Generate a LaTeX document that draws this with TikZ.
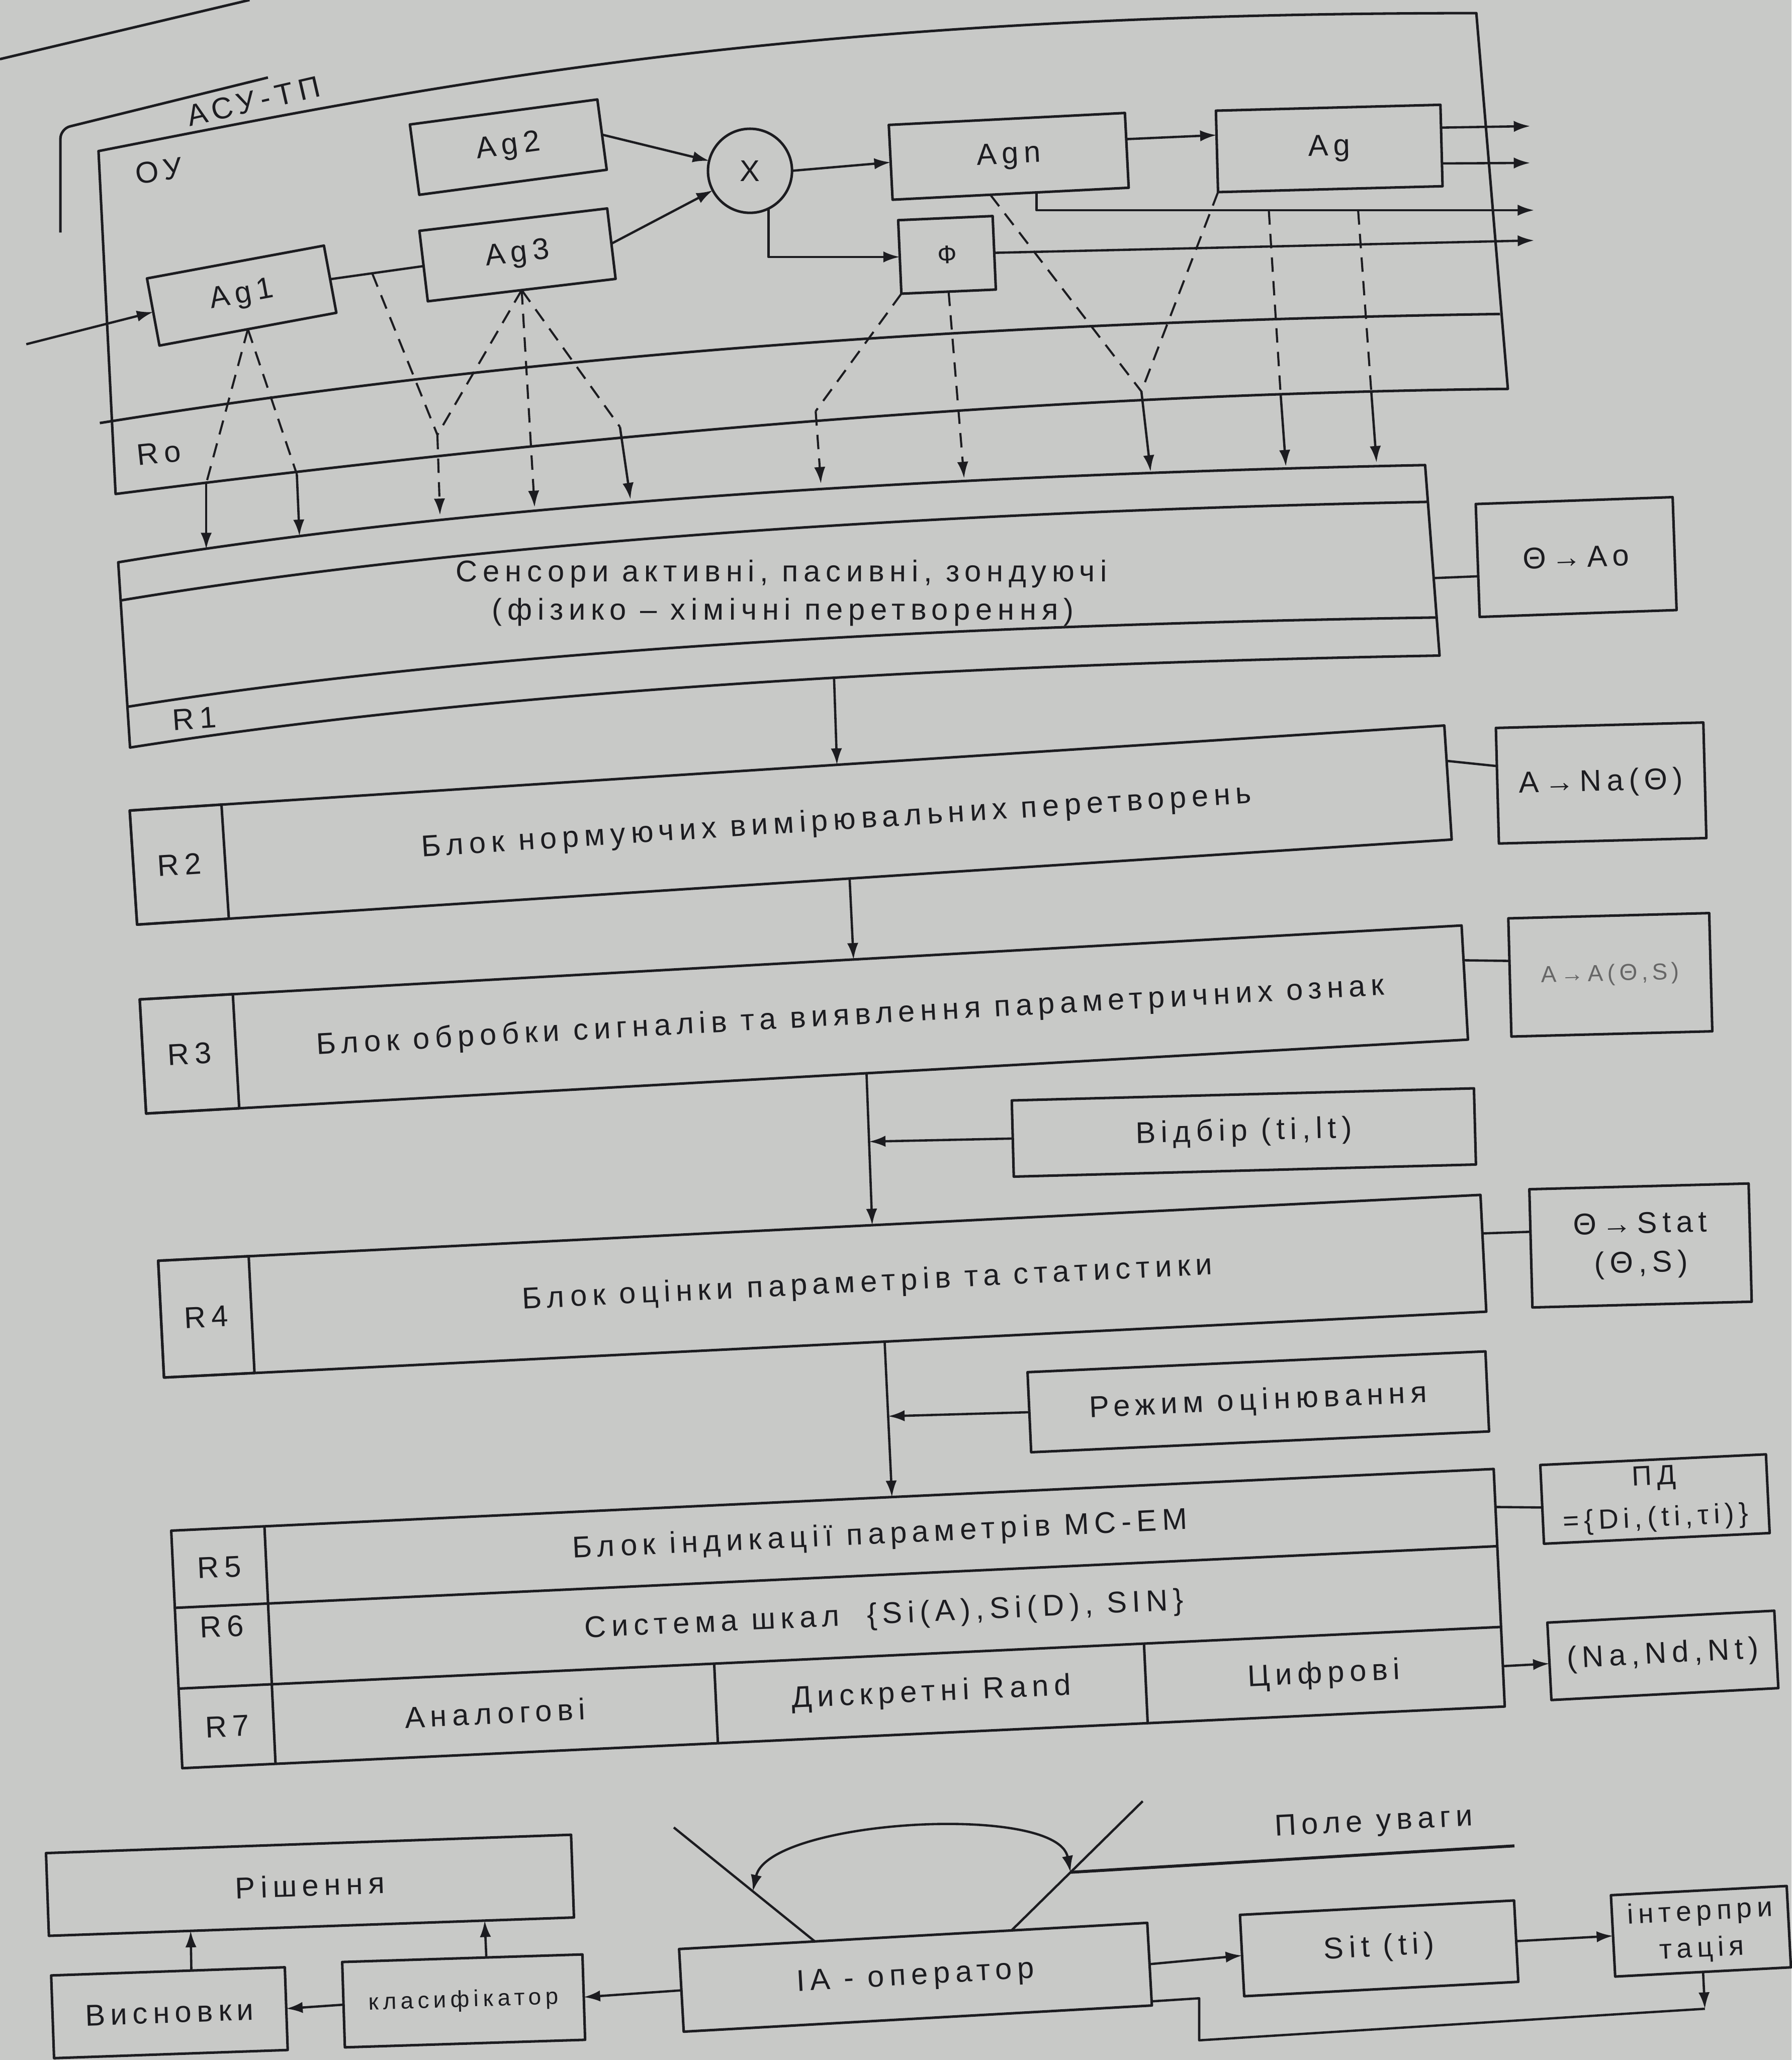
\documentclass[tikz,border=0pt]{standalone}
\usepackage{fontspec}
\setmainfont{Liberation Sans}
\newfontfamily\lsp[LetterSpace=18]{Liberation Sans}
\usetikzlibrary{arrows.meta,calc}
\definecolor{paper}{RGB}{200,201,199}
\definecolor{ink}{RGB}{28,28,32}
\newcommand{\fntA}{\lsp\fontsize{13}{15}\selectfont}
\newcommand{\fntS}{\lsp\fontsize{10}{12}\selectfont}
\tikzset{
 ln/.style={line width=1.1pt, draw=ink},
 box/.style={draw=ink, line width=1.1pt, inner sep=1pt, outer sep=0pt, align=center, text=ink, font=\fntA},
 sz/.style 2 args={minimum width=#1*0.2mm, minimum height=#2*0.2mm},
 txt/.style={inner sep=0pt, outer sep=0pt, align=center, text=ink, font=\fntA},
 ahead/.style={-{Latex[length=2.5mm,width=1.7mm]}},
 arr/.style={draw=ink, line width=1pt, ahead},
 con/.style={draw=ink, line width=1pt},
 dsh/.style={draw=ink, line width=0.9pt, dash pattern=on 2.2mm off 1.4mm},
 darr/.style={dsh, ahead},
}
\begin{document}
\begin{tikzpicture}[x=0.2mm, y=-0.2mm, line join=round]
\fill[paper] (0,0) rectangle (1364,1568);
\useasboundingbox (0,0) rectangle (1364,1568);

% ---------- top: ASU-TP, OU, Ro ----------
\draw[ln] (0,45) -- (190,0);
\draw[ln, rounded corners=1.5mm] (46,177) -- (46,98) -- (204,59);
\node[txt, rotate=13] (asu) at (193,77) {АСУ-ТП};

\draw[ln] (75,115) .. controls (330,65) and (600,10) .. (1124,10) -- (1148,296)
      .. controls (800,300) and (450,330) .. (88,376) -- cycle;
\draw[ln] (76,322) .. controls (400,270) and (750,245) .. (1142,239);
\node[txt, rotate=8] (ou) at (121,130) {ОУ};
\node[txt, rotate=6] (ro) at (121,345) {Ro};

\node[box, sz={137}{52}, rotate=10.5] (ag1) at (184,225) {Ag1};
\node[box, sz={144}{54}, rotate=7.6] (ag2) at (387,112) {Ag2};
\node[box, sz={144}{54}, rotate=6.8] (ag3) at (394,194) {Ag3};
\node[draw=ink, line width=1.1pt, circle, minimum size=64*0.2mm, inner sep=0pt, outer sep=0pt, text=ink, font=\fntA] (mul) at (571,130) {X};
\node[box, sz={180}{57}, rotate=2.9] (agn) at (768,119) {Agn};
\node[box, sz={171}{62}, rotate=1.5] (ag) at (1012,113) {Ag};
\node[box, sz={72}{56}, rotate=2.5, font=\lsp\fontsize{11}{13}\selectfont] (phi) at (721,194) {Ф};

\coordinate (in) at (20,262);
\draw[arr] (in) -- (ag1.west);
\draw[con] (ag1.east) -- (ag3.west);
\draw[arr] (ag2.east) -- (mul);
\draw[arr] (ag3.east) -- (mul);
\draw[arr] (mul.east) -- (agn.west);
\draw[arr] (mul.-64) |- (phi.west);
\draw[arr] ($(agn.north east)!0.35!(agn.south east)$) -- ($(ag.north west)!0.3!(ag.south west)$);

\coordinate (o1) at (1165,96);
\coordinate (o2) at (1165,124);
\coordinate (o3) at (1168,160);
\coordinate (o4) at (1168,183);
\draw[arr] ($(ag.north east)!0.28!(ag.south east)$) -- (o1);
\draw[arr] ($(ag.north east)!0.72!(ag.south east)$) -- (o2);
\draw[arr] ($(agn.south west)!0.61!(agn.south east)$) |- (o3);
\draw[arr] (phi.east) -- (o4);

% dashed sensing lines
\coordinate (j1) at (157,368); \coordinate (t1) at (157,418);
\coordinate (j2) at (226,361); \coordinate (t2) at (228,408);
\draw[dsh] (ag1.south) -- (j1);
\draw[dsh] (ag1.south) -- (j2);
\draw[arr] (j1) -- (t1);
\draw[arr] (j2) -- (t2);

\coordinate (lk) at ($(ag1.east)!0.45!(ag3.west)$);
\coordinate (v1) at (333,331); \coordinate (t3) at (335,392);
\draw[dsh] (lk) -- (v1);
\draw[dsh] (ag3.south) -- (v1);
\draw[darr] (v1) -- (t3);
\coordinate (t4) at (407,386);
\draw[darr] (ag3.south) -- (t4);
\coordinate (v2) at (472,325); \coordinate (t5) at (480,380);
\draw[dsh] (ag3.south) -- (v2);
\draw[arr] (v2) -- (t5);

\coordinate (v3) at (621,313); \coordinate (t6) at (625,368);
\coordinate (t7) at (734,364);
\draw[dsh] (phi.south west) -- (v3);
\draw[darr] (v3) -- (t6);
\draw[darr] (phi.south) -- (t7);

\coordinate (v4) at (869,298); \coordinate (t8) at (876,359);
\draw[dsh] ($(agn.south west)!0.414!(agn.south east)$) -- (v4);
\draw[dsh] (ag.south west) -- (v4);
\draw[arr] (v4) -- (t8);

\coordinate (d1) at (966,160); \coordinate (v5) at (975,300); \coordinate (t9) at (979,355);
\coordinate (d2) at (1034,160); \coordinate (v6) at (1044,298); \coordinate (t10) at (1048,352);
\draw[dsh] (d1) -- (v5); \draw[arr] (v5) -- (t9);
\draw[dsh] (d2) -- (v6); \draw[arr] (v6) -- (t10);

% ---------- sensors / R1 ----------
\draw[ln] (90,428) .. controls (350,385) and (700,362) .. (1085,354) -- (1096,499)
      .. controls (709,506) and (359,528) .. (99,569) -- cycle;
\draw[ln] (92,457) .. controls (350,414) and (700,390) .. (1087,382);
\draw[ln] (97,538) .. controls (354,497) and (704,476) .. (1094,470);
\node[txt] (sen1) at (595,437) {Сенсори активні, пасивні, зондуючі};
\node[txt] (sen2) at (596,466) {(фізико – хімічні перетворення)};
\node[txt, rotate=4] (r1) at (148,547) {R1};

\node[box, sz={150}{86}, rotate=2] (tao) at (1200,424) {Θ→Ao};
\coordinate (sr) at (1092,440);
\draw[con] (sr) -- ($(tao.north west)!0.64!(tao.south west)$);

% ---------- R2 ----------
\node[box, sz={1003}{87}, rotate=3.7] (r2) at (602,628) {};
\node[box, sz={70}{87}, rotate=3.7, anchor=north west] (r2l) at (r2.north west) {R2};
\node[txt, rotate=3.7] (r2t) at ($(r2l.east)!0.5!(r2.east)$) {Блок нормуючих вимірювальних перетворень};
\node[box, sz={158}{88}, rotate=1.5] (ana) at (1219,596) {A→Na(Θ)};
\draw[con] ($(r2.north east)!0.31!(r2.south east)$) -- ($(ana.north west)!0.33!(ana.south west)$);
\coordinate (s1) at (635,516);
\draw[arr] (s1) -- ($(r2.north west)!0.538!(r2.north east)$);

% ---------- R3 ----------
\node[box, sz={1008}{87}, rotate=3.2] (r3) at (612,776) {};
\node[box, sz={71}{87}, rotate=3.2, anchor=north west] (r3l) at (r3.north west) {R3};
\node[txt, rotate=3.2] (r3t) at ($(r3l.east)!0.5!(r3.east)$) {Блок обробки сигналів та виявлення параметричних ознак};
\node[box, sz={153}{90}, rotate=1.5, font=\fntS, text=black!60] (aas) at (1226,742) {A→A(Θ,S)};
\draw[con] ($(r3.north east)!0.305!(r3.south east)$) -- ($(aas.north west)!0.36!(aas.south west)$);
\draw[arr] ($(r2.south west)!0.542!(r2.south east)$) -- ($(r3.north west)!0.54!(r3.north east)$);

\node[box, sz={352}{58}, rotate=1.5] (vid) at (947,862) {Відбір (ti,lt)};

% ---------- R4 ----------
\node[box, sz={1008}{89}, rotate=2.85] (r4) at (626,979) {};
\node[box, sz={69}{89}, rotate=2.85, anchor=north west] (r4l) at (r4.north west) {R4};
\node[txt, rotate=2.85] (r4t) at ($(r4l.east)!0.5!(r4.east)$) {Блок оцінки параметрів та статистики};
\node[box, sz={167}{90}, rotate=1.5, font=\lsp\fontsize{13}{17}\selectfont] (tst) at (1249,948) {Θ→Stat\\(Θ,S)};
\draw[con] ($(r4.north east)!0.33!(r4.south east)$) -- ($(tst.north west)!0.36!(tst.south west)$);

\coordinate (p34a) at ($(r3.south west)!0.545!(r3.south east)$);
\coordinate (p34b) at ($(r4.north west)!0.54!(r4.north east)$);
\draw[arr] (p34a) -- (p34b);
\draw[arr] (vid.west) -- ($(p34a)!0.45!(p34b)$);

\node[box, sz={349}{61}, rotate=2.6] (rez) at (958,1067) {Режим оцінювання};

% ---------- R5-R7 ----------
\node[box, sz={1008}{181}, rotate=2.67] (r5) at (638,1232) {};
\coordinate (l56w) at ($(r5.north west)!0.325!(r5.south west)$);
\coordinate (l56e) at ($(r5.north east)!0.325!(r5.south east)$);
\coordinate (l67w) at ($(r5.north west)!0.665!(r5.south west)$);
\coordinate (l67e) at ($(r5.north east)!0.665!(r5.south east)$);
\draw[ln] (l56w) -- (l56e);
\draw[ln] (l67w) -- (l67e);
\draw[ln] ($(r5.north west)!0.0705!(r5.north east)$) -- ($(r5.south west)!0.0705!(r5.south east)$);
\draw[ln] ($(l67w)!0.405!(l67e)$) -- ($(r5.south west)!0.405!(r5.south east)$);
\draw[ln] ($(l67w)!0.73!(l67e)$) -- ($(r5.south west)!0.73!(r5.south east)$);
\node[txt, rotate=2.67] (r5l) at (167,1193) {R5};
\node[txt, rotate=2.67] (r6l) at (169,1238) {R6};
\node[txt, rotate=2.67] (r7l) at (173,1314) {R7};
\node[txt, rotate=2.67] (r5t) at (670,1169) {Блок індикації параметрів МС-ЕМ};
\node[txt, rotate=2.67] (r6t) at (673,1230) {Система шкал \ \{Si(A),Si(D), SIN\}};
\node[txt, rotate=2.67] (r7a) at (377,1304) {Аналогові};
\node[txt, rotate=2.67] (r7b) at (709,1289) {Дискретні Rand};
\node[txt, rotate=2.67] (r7c) at (1008,1275) {Цифрові};

\coordinate (p45a) at ($(r4.south west)!0.545!(r4.south east)$);
\coordinate (p45b) at ($(r5.north west)!0.545!(r5.north east)$);
\draw[arr] (p45a) -- (p45b);
\draw[arr] (rez.west) -- ($(p45a)!0.48!(p45b)$);

\node[box, sz={172}{60}, rotate=2.7, font=\lsp\fontsize{12}{18}\selectfont] (pd) at (1260,1141) {ПД\\=\{Di,(ti,τi)\}};
\draw[con] ($(r5.north east)!0.16!(r5.south east)$) -- ($(pd.north west)!0.54!(pd.south west)$);
\node[box, sz={173}{59}, rotate=3] (nn) at (1266,1260) {(Na,Nd,Nt)};
\draw[arr] ($(r5.north east)!0.83!(r5.south east)$) -- ($(nn.north west)!0.53!(nn.south west)$);

% ---------- bottom row ----------
\node[box, sz={400}{63}, rotate=2] (rish) at (236,1435) {Рішення};
\node[box, sz={178}{63}, rotate=2] (visn) at (129,1532) {Висновки};
\node[box, sz={183}{65}, rotate=1.8, font=\fntS] (klas) at (353,1523) {класифікатор};
\node[box, sz={357}{63}, rotate=3.2] (ia) at (697,1505) {IA - оператор};
\node[box, sz={209}{62}, rotate=3] (sit) at (1050,1483) {Sit (ti)};
\node[box, sz={134}{62}, rotate=3, font=\lsp\fontsize{12}{16}\selectfont] (int) at (1295,1470) {інтерпри\\тація};

\draw[arr] ($(visn.north west)!0.6!(visn.north east)$) -- ($(rish.south west)!0.27!(rish.south east)$);
\draw[arr] ($(klas.north west)!0.6!(klas.north east)$) -- ($(rish.south west)!0.83!(rish.south east)$);
\draw[arr] (ia.west) -- (klas.east);
\draw[arr] (klas.west) -- (visn.east);
\draw[arr] (ia.east) -- (sit.west);
\draw[arr] (sit.east) -- (int.west);
\coordinate (fb1) at (1298,1529);
\coordinate (fb2) at (913,1553);
\coordinate (fb3) at (913,1521);
\draw[arr] (int.south) -- (fb1);
\draw[con] (fb1) -- (fb2) -- (fb3) -- ($(ia.north east)!0.95!(ia.south east)$);

% attention field
\coordinate (l1a) at (513,1391);
\coordinate (l1b) at ($(ia.north west)!0.29!(ia.north east)$);
\coordinate (l2a) at (870,1371);
\coordinate (l2b) at ($(ia.north west)!0.71!(ia.north east)$);
\draw[con] (l1a) -- (l1b);
\draw[con] (l2a) -- (l2b);
\coordinate (a1) at ($(l1a)!0.56!(l1b)$);
\coordinate (a2) at ($(l2a)!0.55!(l2b)$);
\draw[con, {Latex[length=2.5mm,width=1.7mm]}-{Latex[length=2.5mm,width=1.7mm]}] (a1) .. controls (585,1385) and (805,1372) .. (a2);
\coordinate (pe) at (1153,1405);
\draw[draw=ink, line width=1.3pt] (a2) -- (pe);
\node[txt, rotate=3] (pole) at (1046,1388) {Поле уваги};
\end{tikzpicture}
\end{document}
